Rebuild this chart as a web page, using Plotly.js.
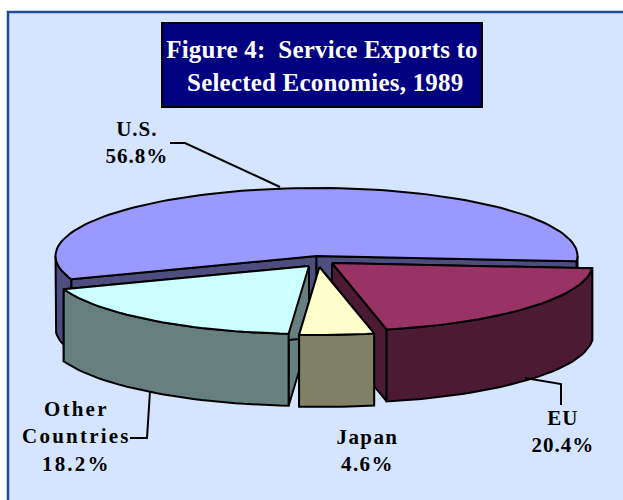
<!DOCTYPE html>
<html><head><meta charset="utf-8">
<script src="https://cdn.plot.ly/plotly-3.0.1.min.js"></script>
<style>
html,body{margin:0;padding:0;background:#fff;}
.annotation text{letter-spacing:1px;}
.annotation[data-index="3"] text{letter-spacing:2.2px;}
.annotation[data-index="2"] text{letter-spacing:1.4px;}
.gtitle{letter-spacing:0.2px;}
</style>
</head><body><div id="chart" style="width:623px;height:500px;"></div>
<script>
// Data (clockwise from the U.S. slice)
const categories = ['U.S.', 'EU', 'Japan', 'Other<br>Countries'];
const shares = [56.8, 20.4, 4.6, 18.2];

// Styles
const topColors  = ['#9999FF', '#993366', '#FFFFCC', '#CCFFFF'];
const sideColors = ['#4D4D80', '#4D1A33', '#808066', '#668080'];

// Projection of the tilted, exploded pie (in picture pixels)
const rx = 261, ry = 68, depth = 72, startDeg = 250;
const apexX = [316.5, 332, 319.5, 309];
const apexY = [256, 263, 267, 266];
const labelX = [137, 563, 367, 76];
const labelY = [142, 431, 450, 436];

const traces = [];
function poly(xs, ys, fill) {
  traces.push({type:'scatter', mode:'lines', x:xs.concat(xs[0]), y:ys.concat(ys[0]),
    fill:'toself', fillcolor:fill, line:{color:'#000', width:2}, hoverinfo:'skip', showlegend:false});
}
function rim(i, deg) {
  const t = deg * Math.PI / 180;
  return [apexX[i] + rx * Math.sin(t), apexY[i] - ry * Math.cos(t)];
}
function arcPts(i, a, b) {
  const pts = [], n = Math.max(2, Math.ceil(Math.abs(b - a) / 2));
  for (let k = 0; k <= n; k++) pts.push(rim(i, a + (b - a) * k / n));
  return pts;
}
function outerWall(i, a, b) {
  const p = arcPts(i, a, b);
  poly(p.map(q => q[0]).concat(p.slice().reverse().map(q => q[0])),
       p.map(q => q[1]).concat(p.slice().reverse().map(q => q[1] + depth)), sideColors[i]);
}
function cutWall(i, deg) {
  const r = rim(i, deg);
  poly([apexX[i], r[0], r[0], apexX[i]],
       [apexY[i], r[1], r[1] + depth, apexY[i] + depth], sideColors[i]);
}
const total = shares.reduce((s, v) => s + v, 0);
let cursor = startDeg;
const spans = shares.map(v => { const a = cursor; cursor += v / total * 360; return [a, cursor]; });

[0, 1, 3, 2].forEach(i => {
  const [a, b] = spans[i];
  cutWall(i, a);
  cutWall(i, b);
  // front-facing part of the rim lies between 90 and 270 degrees (also modulo 360)
  [[90, 270], [450, 630]].forEach(([lo, hi]) => {
    const s = Math.max(a, lo), e = Math.min(b, hi);
    if (e > s) outerWall(i, s, e);
  });
  const p = arcPts(i, a, b);
  poly([apexX[i]].concat(p.map(q => q[0])), [apexY[i]].concat(p.map(q => q[1])), topColors[i]);
});

const labels = categories.map((c, i) => ({
  text: '<b>' + c + '<br>' + shares[i].toFixed(1) + '%</b>',
  x: labelX[i], y: labelY[i], xref:'x', yref:'y', showarrow:false,
  xanchor:'center', yanchor:'middle', align:'center',
  font:{family:'"Liberation Serif", serif', size:21, color:'#000'}
}));

const leaders = [
  'M170,143 L185,143 L280,187',
  'M525,378 L561,384 L561,405',
  'M130,438 L147,438 L150,391'
].map(path => ({type:'path', path, xref:'x', yref:'y', line:{color:'#000', width:2}}));

const layout = {
  width:623, height:500, margin:{l:0, r:0, t:0, b:0},
  paper_bgcolor:'#fff', plot_bgcolor:'#fff', showlegend:false,
  xaxis:{range:[0,623], visible:false, fixedrange:true},
  yaxis:{range:[500,0], visible:false, fixedrange:true},
  title:{text:'<b>Figure 4:\u00A0\u00A0Service Exports to<br>\u00A0Selected Economies, 1989</b>',
    x:322/623, xref:'paper', xanchor:'center', y:1-58/500, yref:'container', yanchor:'top',
    font:{family:'"Liberation Serif", serif', size:25, color:'#fff'}},
  annotations: labels,
  shapes: [
    {type:'rect', xref:'x', yref:'y', x0:8, y0:12, x1:660, y1:540, layer:'below',
     fillcolor:'#D5E5FF', line:{color:'#1B4E97', width:2.5}},
    {type:'rect', xref:'x', yref:'y', x0:162, y0:23, x1:482, y1:107, layer:'below',
     fillcolor:'#000080', line:{color:'#000', width:2}}
  ].concat(leaders)
};
Plotly.newPlot('chart', traces, layout, {displayModeBar:false, staticPlot:true});
</script></body></html>
